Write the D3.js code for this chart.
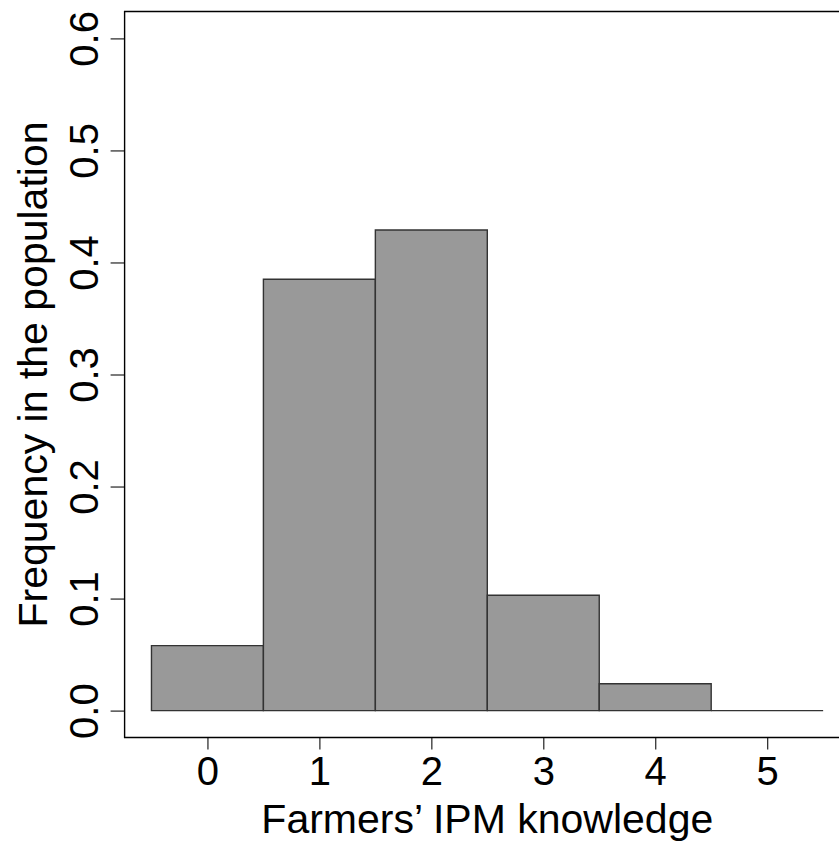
<!DOCTYPE html>
<html>
<head>
<meta charset="UTF-8">
<script src="https://cdn.jsdelivr.net/npm/d3@7/dist/d3.min.js"></script>
<style>
html, body{
    margin:0;
    overflow:hidden;
    background-color:white;
    font-family: "Liberation Sans", Arial, sans-serif;
}
svg{ display:block; overflow:hidden; }
.axis path{ display:none; }
.axis line{ stroke:#333; stroke-width:1.3; }
</style>
</head>
<body>
<script>

// knowledge score (bin centre) and share of farmers
var scores = [0, 1, 2, 3, 4, 5];
var freqs = [0.058, 0.385, 0.429, 0.103, 0.024, 0];
var xTicks = [0, 1, 2, 3, 4, 5];
var yTicks = [0.0, 0.1, 0.2, 0.3, 0.4, 0.5, 0.6];

var width = 839, height = 844;
var box = {left: 124.6, top: 11.5, right: 850, bottom: 737.5};

// R pads the range by 4% on each side
var x = d3.scaleLinear().domain([-0.74, 5.74]).range([box.left, box.right]);
var y = d3.scaleLinear().domain([-0.024, 0.624]).range([box.bottom, box.top]);

var svg = d3.select("body").append("svg")
    .attr("width", width)
    .attr("height", height);

// paths rather than rects so an empty bin still shows its base line
svg.selectAll(".bar")
    .data(scores)
    .enter().append("path")
    .attr("class", "bar")
    .attr("d", function(d, i){
        var x0 = x(d - 0.5), x1 = x(d + 0.5), y0 = y(0), y1 = y(freqs[i]);
        return "M" + x0 + "," + y0 + "V" + y1 + "H" + x1 + "V" + y0 + "Z";
    })
    .attr("fill", "#999999")
    .attr("stroke", "#333")
    .attr("stroke-width", 1.4);

var xAxis = d3.axisBottom(x).tickValues(xTicks).tickFormat(d3.format("d")).tickSize(12);
var yAxis = d3.axisLeft(y).tickValues(yTicks).tickFormat(d3.format(".1f")).tickSize(14);

var gX = svg.append("g")
    .attr("class", "axis")
    .attr("transform", "translate(0," + box.bottom + ")")
    .call(xAxis);
gX.selectAll("text")
    .attr("y", 47.5)
    .attr("dy", null)
    .attr("font-size", 40)
    .attr("font-family", "Liberation Sans, Arial, sans-serif")
    .attr("fill", "black");

var gY = svg.append("g")
    .attr("class", "axis")
    .attr("transform", "translate(" + box.left + ",0)")
    .call(yAxis);
gY.selectAll("text")
    .attr("x", 0)
    .attr("dy", null)
    .attr("text-anchor", "middle")
    .attr("transform", "translate(-27,0) rotate(-90)")
    .attr("font-size", 40)
    .attr("font-family", "Liberation Sans, Arial, sans-serif")
    .attr("fill", "black");

// plot frame; its right side falls outside the picture
svg.append("path")
    .attr("d", "M" + box.right + "," + box.top + "H" + box.left + "V" + box.bottom + "H" + box.right)
    .attr("fill", "none")
    .attr("stroke", "black")
    .attr("stroke-width", 1.4);

svg.append("text")
    .attr("x", (box.left + box.right) / 2)
    .attr("y", 833)
    .attr("font-size", 41)
    .attr("text-anchor", "middle")
    .attr("fill", "black")
    .text("Farmers\u2019 IPM knowledge");

svg.append("text")
    .attr("transform", "translate(47," + (box.top + box.bottom) / 2 + ") rotate(-90)")
    .attr("font-size", 41)
    .attr("text-anchor", "middle")
    .attr("fill", "black")
    .text("Frequency in the population");

</script>
</body>
</html>
